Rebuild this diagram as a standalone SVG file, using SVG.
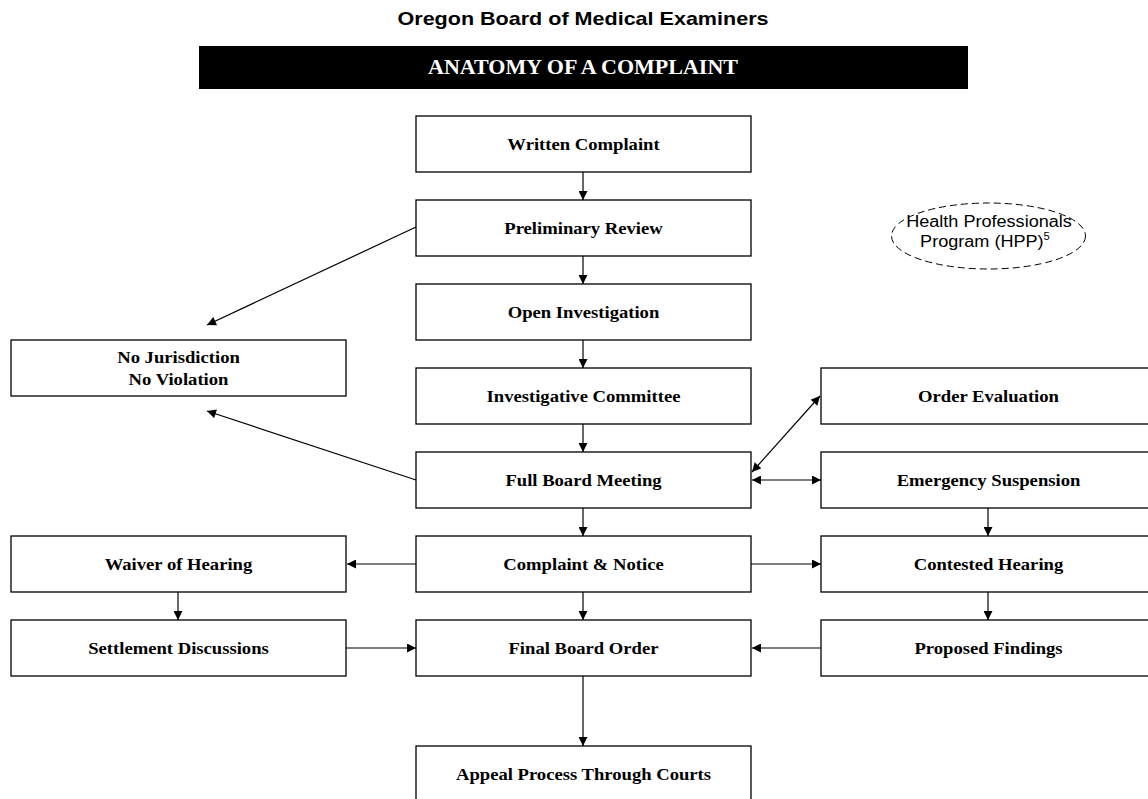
<svg xmlns="http://www.w3.org/2000/svg" width="1148" height="799" viewBox="0 0 1148 799">
<style>
.box{fill:#fff;stroke:#000;stroke-width:1.3}
.lbl{font-family:"Liberation Serif","Times New Roman",serif;font-weight:bold;font-size:17.5px;fill:#000;text-anchor:middle}
.ln{stroke:#000;stroke-width:1.2;fill:none}
.hpp{font-family:"Liberation Sans",Arial,sans-serif;font-size:16px;fill:#000;text-anchor:middle}
</style>
<defs>
<marker id="ah" viewBox="0 0 10 10" refX="10" refY="5" markerWidth="10" markerHeight="9" markerUnits="userSpaceOnUse" orient="auto-start-reverse">
<path d="M0,0 L10,5 L0,10 z" fill="#000"/>
</marker>
</defs>
<rect width="1148" height="799" fill="#fff"/>
<g id="header">
<text x="583" y="25" font-family="Liberation Sans,Arial,sans-serif" font-weight="bold" font-size="19" text-anchor="middle" textLength="371" lengthAdjust="spacingAndGlyphs">Oregon Board of Medical Examiners</text>
<rect x="199" y="46" width="769" height="43" fill="#000"/>
<text x="583" y="74" font-family="Liberation Serif,Times New Roman,serif" font-weight="bold" font-size="21" fill="#fff" text-anchor="middle" textLength="310" lengthAdjust="spacingAndGlyphs">ANATOMY OF A COMPLAINT</text>
</g>
<g id="connectors">
<line class="ln" x1="583" y1="172" x2="583" y2="200" marker-end="url(#ah)"/>
<line class="ln" x1="583" y1="256" x2="583" y2="284" marker-end="url(#ah)"/>
<line class="ln" x1="583" y1="340" x2="583" y2="368" marker-end="url(#ah)"/>
<line class="ln" x1="583" y1="424" x2="583" y2="452" marker-end="url(#ah)"/>
<line class="ln" x1="583" y1="508" x2="583" y2="536" marker-end="url(#ah)"/>
<line class="ln" x1="583" y1="592" x2="583" y2="620" marker-end="url(#ah)"/>
<line class="ln" x1="583" y1="676" x2="583" y2="746" marker-end="url(#ah)"/>
<line class="ln" x1="416" y1="227" x2="207" y2="325" marker-end="url(#ah)"/>
<line class="ln" x1="416" y1="480" x2="207" y2="411" marker-end="url(#ah)"/>
<line class="ln" x1="752" y1="472" x2="820" y2="396" marker-start="url(#ah)" marker-end="url(#ah)"/>
<line class="ln" x1="752" y1="480" x2="821" y2="480" marker-start="url(#ah)" marker-end="url(#ah)"/>
<line class="ln" x1="988" y1="508" x2="988" y2="536" marker-end="url(#ah)"/>
<line class="ln" x1="988" y1="592" x2="988" y2="620" marker-end="url(#ah)"/>
<line class="ln" x1="416" y1="564" x2="347" y2="564" marker-end="url(#ah)"/>
<line class="ln" x1="751" y1="564" x2="821" y2="564" marker-end="url(#ah)"/>
<line class="ln" x1="178" y1="592" x2="178" y2="620" marker-end="url(#ah)"/>
<line class="ln" x1="346" y1="648" x2="416" y2="648" marker-end="url(#ah)"/>
<line class="ln" x1="821" y1="648" x2="752" y2="648" marker-end="url(#ah)"/>
</g>
<g id="written"><rect class="box" x="416" y="116" width="335" height="56"/><text class="lbl" transform="translate(583.5,150) scale(1.065,1)">Written Complaint</text></g>
<g id="preliminary"><rect class="box" x="416" y="200" width="335" height="56"/><text class="lbl" transform="translate(583.5,234) scale(1.065,1)">Preliminary Review</text></g>
<g id="open"><rect class="box" x="416" y="284" width="335" height="56"/><text class="lbl" transform="translate(583.5,318) scale(1.065,1)">Open Investigation</text></g>
<g id="committee"><rect class="box" x="416" y="368" width="335" height="56"/><text class="lbl" transform="translate(583.5,402) scale(1.065,1)">Investigative Committee</text></g>
<g id="fullboard"><rect class="box" x="416" y="452" width="335" height="56"/><text class="lbl" transform="translate(583.5,486) scale(1.065,1)">Full Board Meeting</text></g>
<g id="notice"><rect class="box" x="416" y="536" width="335" height="56"/><text class="lbl" transform="translate(583.5,570) scale(1.065,1)">Complaint &amp; Notice</text></g>
<g id="final"><rect class="box" x="416" y="620" width="335" height="56"/><text class="lbl" transform="translate(583.5,654) scale(1.065,1)">Final Board Order</text></g>
<g id="appeal"><rect class="box" x="416" y="746" width="335" height="60"/><text class="lbl" transform="translate(583.5,780) scale(1.065,1)">Appeal Process Through Courts</text></g>
<g id="nojur"><rect class="box" x="11" y="340" width="335" height="56"/><text class="lbl" transform="translate(178.5,363) scale(1.065,1)">No Jurisdiction</text><text class="lbl" transform="translate(178.5,385) scale(1.065,1)">No Violation</text></g>
<g id="waiver"><rect class="box" x="11" y="536" width="335" height="56"/><text class="lbl" transform="translate(178.5,570) scale(1.065,1)">Waiver of Hearing</text></g>
<g id="settlement"><rect class="box" x="11" y="620" width="335" height="56"/><text class="lbl" transform="translate(178.5,654) scale(1.065,1)">Settlement Discussions</text></g>
<g id="orderEval"><rect class="box" x="821" y="368" width="335" height="56"/><text class="lbl" transform="translate(988.5,402) scale(1.065,1)">Order Evaluation</text></g>
<g id="emergency"><rect class="box" x="821" y="452" width="335" height="56"/><text class="lbl" transform="translate(988.5,486) scale(1.065,1)">Emergency Suspension</text></g>
<g id="contested"><rect class="box" x="821" y="536" width="335" height="56"/><text class="lbl" transform="translate(988.5,570) scale(1.065,1)">Contested Hearing</text></g>
<g id="proposed"><rect class="box" x="821" y="620" width="335" height="56"/><text class="lbl" transform="translate(988.5,654) scale(1.065,1)">Proposed Findings</text></g>
<g id="hpp">
<ellipse cx="988.5" cy="236" rx="97" ry="33" fill="none" stroke="#000" stroke-width="1" stroke-dasharray="7,4"/>
<text class="hpp" transform="translate(989,227) scale(1.13,1)">Health Professionals</text>
<text class="hpp" transform="translate(985,247) scale(1.13,1)">Program (HPP)<tspan font-size="10" dy="-7">5</tspan></text>
</g>
</svg>
